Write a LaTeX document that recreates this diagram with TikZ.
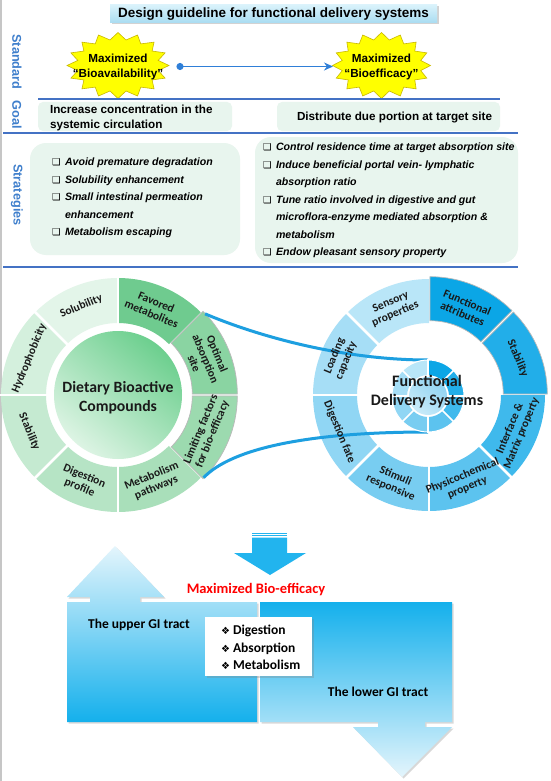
\documentclass[tikz,border=0pt]{standalone}
\usepackage{fontspec}
\setmainfont{Liberation Sans}
\newfontfamily\carl{Carlito}
\newfontfamily\dejavu{DejaVu Sans}
\usetikzlibrary{shadows,arrows.meta,calc}

\definecolor{sepblue}{HTML}{4472C4}
\definecolor{lblblue}{HTML}{3F7FCC}
\definecolor{boxgreen}{HTML}{E8F5EE}
\definecolor{staryellow}{HTML}{FFFF00}
\definecolor{staredge}{HTML}{C9B800}
\definecolor{arrowblue}{HTML}{2F7FD8}
\definecolor{titletop}{HTML}{D9F2FB}
\definecolor{titlebot}{HTML}{A9DCF1}
\definecolor{g1}{HTML}{6FCB8F}
\definecolor{g2}{HTML}{8AD4A2}
\definecolor{g3}{HTML}{9CDAAF}
\definecolor{g4}{HTML}{A9DFBA}
\definecolor{g5}{HTML}{B6E4C5}
\definecolor{g6}{HTML}{C5EAD1}
\definecolor{g7}{HTML}{D4F0DD}
\definecolor{g8}{HTML}{E3F5E9}
\definecolor{gdisc1}{HTML}{6CCF8E}
\definecolor{gdisc2}{HTML}{DDF4E4}
\definecolor{b1}{HTML}{0BA6E6}
\definecolor{b2}{HTML}{22AEE9}
\definecolor{b3}{HTML}{3FB9EC}
\definecolor{b4}{HTML}{5CC3EF}
\definecolor{b5}{HTML}{78CDF1}
\definecolor{b6}{HTML}{90D6F4}
\definecolor{b7}{HTML}{A6DEF6}
\definecolor{b8}{HTML}{B9E6F8}
\definecolor{bcore1}{HTML}{8FD3F2}
\definecolor{bcore2}{HTML}{C9EBF9}
\definecolor{callout}{HTML}{1D9FE0}
\definecolor{gibright}{HTML}{14B0EC}
\definecolor{gipale}{HTML}{E4F5FC}
\definecolor{downblue}{HTML}{22B4EE}

\newcommand\ringseg[5]{\fill[#5] (#1:#3pt) arc[start angle=#1,end angle=#2,radius=#3pt] -- (#2:#4pt) arc[start angle=#2,end angle=#1,radius=#4pt] -- cycle;}
\newcommand\ringsegx[5]{\filldraw[#5,draw=gray!55,line width=0.7pt,shift={({(#1+#2)/2}:2.5pt)}] (#1:#3pt) arc[start angle=#1,end angle=#2,radius=#3pt] -- (#2:#4pt) arc[start angle=#2,end angle=#1,radius=#4pt] -- cycle;}
\newcommand\cb{\makebox[13pt][l]{\dejavu\fontsize{9.5}{9.5}\selectfont ❑}}
\newcommand\cbgap{\makebox[13pt]{}}
\newcommand\bul{\makebox[12pt][l]{\dejavu\fontsize{10}{10}\selectfont ❖}}

\begin{document}
\begin{tikzpicture}[x=1pt,y=-1pt,
  every node/.style={inner sep=0pt,outer sep=0pt},
  sepline/.style={draw=sepblue,line width=1.3pt},
  vlabel/.style={rotate=-90,text=lblblue,font=\bfseries\fontsize{12.7}{15}\selectfont},
  titlebox/.style={minimum width=327,minimum height=18,top color=titletop,bottom color=titlebot,drop shadow={opacity=0.35,shadow xshift=1.5pt,shadow yshift=-1.5pt},font=\bfseries\fontsize{13.5}{15}\selectfont},
  starb/.style={fill=staryellow,draw=staredge,line width=0.6pt},
  startext/.style={align=center,font=\bfseries\fontsize{11.7}{15}\selectfont},
  bluearrow/.style={draw=arrowblue,line width=1.6pt,{Circle[length=7pt]}-{Stealth[length=9pt,width=8pt]}},
  goalbox/.style={fill=boxgreen,rounded corners=5pt},
  goaltext/.style={align=left,font=\bfseries\fontsize{11.7}{15}\selectfont},
  stratbox/.style={fill=boxgreen,rounded corners=16pt},
  strattext/.style={align=left,font=\bfseries\itshape\fontsize{10.6}{17.5}\selectfont},
  seglabel/.style={align=center,font=\carl\bfseries\fontsize{11.5}{12.5}\selectfont,text=black!90},
  centertext/.style={align=center,font=\carl\bfseries\fontsize{15.7}{19}\selectfont,text=black!90},
  calloutline/.style={draw=callout,line width=3pt},
  gilabel/.style={font=\carl\bfseries\fontsize{13.5}{17.5}\selectfont},
  gishape/.style={drop shadow={opacity=0.3,shadow xshift=1.5pt,shadow yshift=-1.5pt}},
]
\useasboundingbox (0,0) rectangle (550,781);
\fill[white] (0,0) rectangle (550,781);
\draw[gray!45,line width=1.5pt] (1,0) -- (1,781);

% title
\node[titlebox] (title) at (273.5,14) {Design guideline for functional delivery systems};

% side labels
\node[vlabel] (lstd) at (17,62) {Standard};
\node[vlabel] (lgoal) at (17,115) {Goal};
\node[vlabel] (lstrat) at (17,195) {Strategies};

% starbursts
\path[starb] plot[samples at={0,...,31},variable=\k] ({118+(46+5*cos(180*\k))*cos(11.25*\k)},{65.5+(29.5+3.5*cos(180*\k))*sin(11.25*\k)}) -- cycle;
\path[starb] plot[samples at={0,...,31},variable=\k] ({381.5+(44.5+4.5*cos(180*\k))*cos(11.25*\k)},{65.5+(29.5+3.5*cos(180*\k))*sin(11.25*\k)}) -- cycle;
\node[startext,minimum width=100,minimum height=65] (bioav) at (118,66.5) {Maximized\\“Bioavailability”};
\node[startext,minimum width=97,minimum height=65] (bioeff) at (381.5,66.5) {Maximized\\“Bioefficacy”};
\draw[bluearrow,shorten <=8.5pt] (bioav.east) -- (bioeff.west);

% separators
\draw[sepline] (38,99) -- (500,99);
\draw[sepline] (3,133) -- (518,133);
\draw[sepline] (3,267) -- (518,267);

% goals
\node[goalbox,minimum width=194,minimum height=29,anchor=north west] (goalLbox) at (38,102) {};
\node[goaltext,anchor=west] (goalL) at (50,117.5) {Increase concentration in the\\systemic circulation};
\node[goalbox,minimum width=223,minimum height=29,anchor=north west] (goalRbox) at (277,102) {};
\node[goaltext,anchor=west] (goalR) at (297,118) {Distribute due portion at target site};

% strategies
\node[stratbox,minimum width=210,minimum height=112,anchor=north west] (stratLbox) at (30,143) {};
\node[stratbox,minimum width=263,minimum height=126,anchor=north west] (stratRbox) at (255,137) {};
\node[strattext,anchor=west] (stratL) at (52,198) {\cb Avoid premature degradation\\\cb Solubility enhancement\\\cb Small intestinal permeation\\\cbgap enhancement\\\cb Metabolism escaping};
\node[strattext,anchor=west] (stratR) at (263,200.5) {\cb Control residence time at target absorption site\\\cb Induce beneficial  portal vein- lymphatic\\\cbgap absorption ratio\\\cb Tune ratio involved in digestive and gut\\\cbgap microflora-enzyme mediated absorption \&\\\cbgap metabolism\\\cb Endow pleasant sensory property};

% left wheel
\begin{scope}[shift={(118,395)},x=1pt,y=1pt]
  \ringseg{90}{135}{72}{117}{g8}
  \ringseg{135}{180}{72}{117}{g7}
  \ringseg{180}{225}{72}{117}{g6}
  \ringseg{225}{270}{72}{117}{g5}
  \ringseg{270}{315}{72}{117}{g4}
  \ringseg{45}{90}{72}{117}{g1}
  \foreach \a in {90,135,...,270}{\draw[white,line width=2.5pt] (\a:69pt) -- (\a:120pt);}
  \ringsegx{315}{360}{72}{117}{g3}
  \ringsegx{0}{45}{72}{117}{g2}
  \shade[shading=axis,top color=gdisc1,bottom color=gdisc2,shading angle=-40] (0,0) circle[radius=64pt];
  \node[centertext] (dbc) at (0,-3) {Dietary Bioactive\\Compounds};
  \node[seglabel,rotate=22.5] (lsol) at (112.5:96pt) {Solubility};
  \node[seglabel,rotate=67.5] (lhyd) at (157.5:96pt) {Hydrophobicity};
  \node[seglabel,rotate=-67.5] (lsta) at (-157.5:96pt) {Stability};
  \node[seglabel,rotate=-22.5] (ldig) at (-112.5:94pt) {Digestion\\profile};
  \node[seglabel,rotate=22.5] (lmet) at (-67.5:94pt) {Metabolism\\pathways};
  \node[seglabel,rotate=67.5] (llim) at (-22.5:96pt) {Limiting factors\\for bio-efficacy};
  \node[seglabel,rotate=-67.5] (lopt) at (22.5:95pt) {Optimal\\absorption\\site};
  \node[seglabel,rotate=-22.5] (lfav) at (67.5:94pt) {Favored\\metabolites};
  \coordinate (calA) at (43:119pt);
  \coordinate (calB) at (-44:119pt);
\end{scope}

% right wheel (segments)
\begin{scope}[shift={(429,395)},x=1pt,y=1pt]
  \ringseg{90}{135}{72}{116}{b8}
  \ringseg{135}{180}{72}{116}{b7}
  \ringseg{180}{225}{72}{116}{b6}
  \ringseg{225}{270}{72}{116}{b5}
  \ringseg{270}{315}{72}{116}{b4}
  \ringseg{315}{360}{72}{116}{b3}
  \foreach \a in {135,180,...,315}{\draw[white,line width=2.5pt] (\a:69pt) -- (\a:119pt);}
  \ringsegx{0}{45}{72}{116}{b2}
  \ringsegx{45}{90}{72}{116}{b1}
\end{scope}

% callout connectors
\node[circle,minimum size=72] (sd) at (428,396) {};
\draw[calloutline] (calA) .. controls (255,335) and (340,360) .. (sd.north);
\draw[calloutline] (calB) .. controls (232,448) and (310,432) .. (sd.south);

% right wheel (labels)
\begin{scope}[shift={(429,395)},x=1pt,y=1pt]
  \node[seglabel,rotate=22.5] (rsen) at (112.5:94pt) {Sensory\\properties};
  \node[seglabel,rotate=67.5] (rloa) at (157.5:96pt) {Loading\\capacity};
  \node[seglabel,rotate=-67.5] (rdig) at (-157.5:97pt) {Digestion fate};
  \node[seglabel,rotate=-22.5] (rsti) at (-112.5:94pt) {Stimuli\\responsive};
  \node[seglabel,rotate=22.5] (rphy) at (-67.5:94pt) {Physicochemical\\property};
  \node[seglabel,rotate=67.5] (rint) at (-22.5:94pt) {Interface \&\\Matrix property};
  \node[seglabel,rotate=-67.5] (rsta) at (22.5:96pt) {Stability};
  \node[seglabel,rotate=-22.5] (rfun) at (67.5:94pt) {Functional\\attributes};
\end{scope}

% small disc
\begin{scope}[shift={(428,396)},x=1pt,y=1pt]
  \ringseg{90}{135}{21}{36}{b8}
  \ringseg{135}{180}{21}{36}{b7}
  \ringseg{180}{225}{21}{36}{b6}
  \ringseg{225}{270}{21}{36}{b5}
  \ringseg{270}{315}{21}{36}{b4}
  \ringseg{315}{360}{21}{36}{b3}
  \ringseg{0}{45}{21}{36}{b2}
  \ringseg{45}{90}{21}{36}{b1}
  \foreach \a in {0,45,...,315}{\draw[white,line width=1.5pt] (\a:20pt) -- (\a:37pt);}
  \draw[white,line width=1pt] (0,0) circle[radius=36pt];
  \shade[shading=axis,top color=bcore1,bottom color=bcore2,shading angle=-40] (0,0) circle[radius=19pt];
  \node[centertext,font=\carl\bfseries\fontsize{16}{19}\selectfont] (fds) at (-1,4) {Functional\\Delivery Systems};
\end{scope}

% bottom part
\fill[downblue] (252,532.7) rectangle (287,533.9);
\fill[downblue] (252,535.1) rectangle (287,536.3);
\fill[downblue] (252,537.5) -- (287,537.5) -- (287,553) -- (306,553) -- (270,575) -- (234,553) -- (252,553) -- cycle;
\node[font=\carl\bfseries\fontsize{14.5}{16}\selectfont,text=red] (maxbio) at (256,590) {Maximized Bio-efficacy};

\shade[gishape,top color=gipale,bottom color=gibright] (67,722) -- (67,602) -- (90,602) -- (90,597) -- (67,597) -- (115,546) -- (164,597) -- (140,597) -- (140,602) -- (257,602) -- (257,722) -- cycle;
\shade[gishape,top color=gibright,bottom color=gipale] (260,602) -- (452,602) -- (452,722) -- (425,722) -- (425,727) -- (452,727) -- (402,777) -- (353,727) -- (378,727) -- (378,722) -- (260,722) -- cycle;

\node[gilabel] (upper) at (139,625) {The upper GI tract};
\node[gilabel] (lower) at (378,692) {The lower GI tract};
\node[fill=white,minimum width=107,minimum height=59,drop shadow={opacity=0.3,shadow xshift=1.5pt,shadow yshift=-1.5pt}] (gibox) at (258.5,646.5) {};
\node[gilabel,align=left,anchor=west] (gisteps) at (221,647.5) {\bul Digestion\\\bul Absorption\\\bul Metabolism};
\end{tikzpicture}
\end{document}
